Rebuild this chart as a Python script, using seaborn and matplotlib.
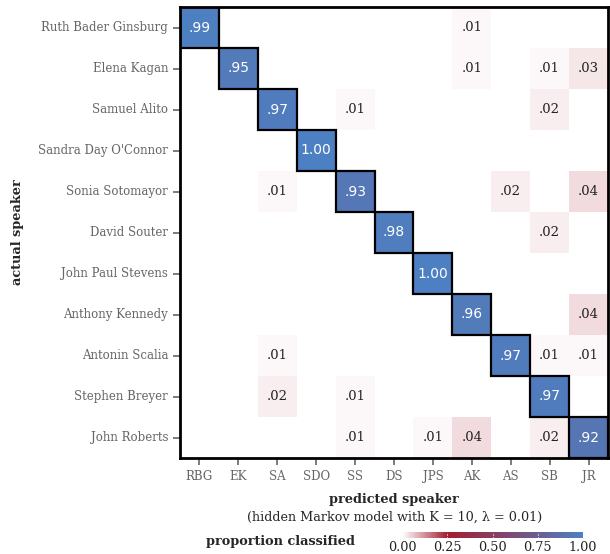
import numpy as np
import matplotlib.pyplot as plt
import seaborn as sns
from matplotlib.colors import LinearSegmentedColormap
from matplotlib.patches import Rectangle

# speakers (rows = actual, columns = predicted)
names = ["Ruth Bader Ginsburg", "Elena Kagan", "Samuel Alito", "Sandra Day O'Connor",
         "Sonia Sotomayor", "David Souter", "John Paul Stevens", "Anthony Kennedy",
         "Antonin Scalia", "Stephen Breyer", "John Roberts"]
abbrevs = ["RBG", "EK", "SA", "SDO", "SS", "DS", "JPS", "AK", "AS", "SB", "JR"]

#              RBG   EK    SA    SDO   SS    DS    JPS   AK    AS    SB    JR
row_rbg = [0.99, 0,    0,    0,    0,    0,    0,    0.01, 0,    0,    0]
row_ek  = [0,    0.95, 0,    0,    0,    0,    0,    0.01, 0,    0.01, 0.03]
row_sa  = [0,    0,    0.97, 0,    0.01, 0,    0,    0,    0,    0.02, 0]
row_sdo = [0,    0,    0,    1.00, 0,    0,    0,    0,    0,    0,    0]
row_ss  = [0,    0,    0.01, 0,    0.93, 0,    0,    0,    0.02, 0,    0.04]
row_ds  = [0,    0,    0,    0,    0,    0.98, 0,    0,    0,    0.02, 0]
row_jps = [0,    0,    0,    0,    0,    0,    1.00, 0,    0,    0,    0]
row_ak  = [0,    0,    0,    0,    0,    0,    0,    0.96, 0,    0,    0.04]
row_as  = [0,    0,    0.01, 0,    0,    0,    0,    0,    0.97, 0.01, 0.01]
row_sb  = [0,    0,    0.02, 0,    0.01, 0,    0,    0,    0,    0.97, 0]
row_jr  = [0,    0,    0,    0,    0.01, 0,    0.01, 0.04, 0,    0.02, 0.92]

conf = np.array([row_rbg, row_ek, row_sa, row_sdo, row_ss, row_ds,
                 row_jps, row_ak, row_as, row_sb, row_jr])

def fmt(v):
    if v == 0:
        return ""
    s = f"{v:.2f}"
    return s[1:] if s.startswith("0") else s

labels = np.vectorize(fmt)(conf)

sns.set_style("white")
plt.rcParams['font.family'] = ['DejaVu Serif']

cmap = LinearSegmentedColormap.from_list(
    "wrb", [(0.0, "#ffffff"), (0.25, "#a51c30"), (1.0, "#4d80c2")])

fig = plt.figure(figsize=(6.1, 5.54), dpi=100)
ax = fig.add_axes([180/610, 1 - 458/554, 428/610, 451/554])
cax = fig.add_axes([402/610, 1 - 538/554, 181/610, 6/554])

sns.heatmap(conf, ax=ax, cmap=cmap, vmin=0, vmax=1, annot=labels, fmt="",
            annot_kws={"fontsize": 10}, cbar_ax=cax,
            cbar_kws={"orientation": "horizontal", "ticks": [0, 0.25, 0.5, 0.75, 1.0]},
            xticklabels=abbrevs, yticklabels=names)

for t in ax.texts:
    txt = t.get_text()
    if txt and float(txt) > 0.5:
        t.set_color("white")
        t.set_fontfamily("DejaVu Sans")
    else:
        t.set_color("#222222")
        t.set_fontsize(9.5)

# boxes around the diagonal
for i in range(len(names)):
    ax.add_patch(Rectangle((i, i), 1, 1, fill=False, edgecolor="black", lw=1.6, zorder=5))

for s in ax.spines.values():
    s.set_visible(True)
    s.set_linewidth(2)
    s.set_color("black")

ax.tick_params(axis="both", length=5, width=1.2, color="#666666", labelcolor="#666666",
               labelsize=8.5, bottom=True, left=True, direction="out")
plt.setp(ax.get_yticklabels(), rotation=0)
plt.setp(ax.get_xticklabels(), rotation=0)

ax.set_ylabel("actual speaker", fontweight="bold", fontsize=9.3, labelpad=10)
ax.set_xlabel("predicted speaker", fontweight="bold", fontsize=9.3, labelpad=7)
fig.text(395/610, 1 - 517/554, "(hidden Markov model with K = 10, λ = 0.01)",
         ha="center", va="center", fontsize=9.2)
fig.text(280/610, 1 - 542/554, "proportion classified", ha="center", va="center",
         fontsize=9.3, fontweight="bold")

cbar = ax.collections[0].colorbar
cbar.outline.set_visible(False)
cax.tick_params(axis="x", length=0, labelsize=9.2, labelcolor="#222222", pad=2)
cax.xaxis.set_major_formatter(plt.FormatStrFormatter("%.2f"))
for v in [0.25, 0.5, 0.75, 1.0]:
    cax.axvline(v, color="white", lw=0.8, ls=":")

fig.savefig("out.png", dpi=100)
